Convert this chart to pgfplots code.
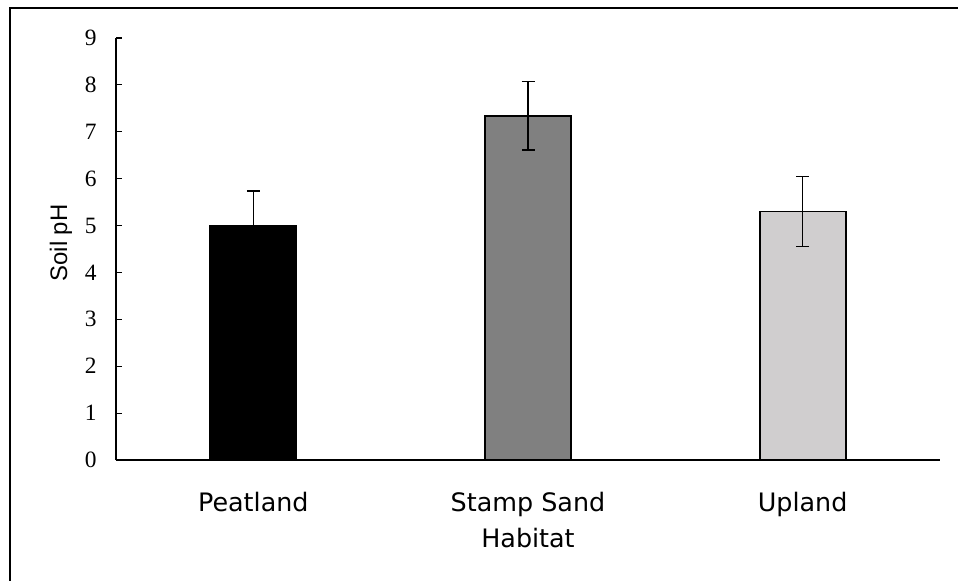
\documentclass[border=0pt]{standalone}
\usepackage{pgfplots}
\pgfplotsset{compat=1.18}
\usepackage{fontspec}
\setmainfont{Liberation Serif}
\newfontfamily\dejavu{DejaVu Sans}
\newfontfamily\arial{Liberation Sans}
\definecolor{midgray}{RGB}{128,128,128}
\definecolor{lightgray2}{RGB}{208,206,207}
\begin{document}
\begin{tikzpicture}
\useasboundingbox (0,0) rectangle (958bp,581bp);
\draw[line width=2bp] (10bp,0) -- (10bp,572.5bp) -- (958bp,572.5bp);
\begin{axis}[
  at={(116bp,121bp)}, anchor=south west,
  scale only axis,
  width=824bp, height=422bp,
  xmin=-0.5, xmax=2.5,
  ymin=0, ymax=9,
  ytick={0,1,2,3,4,5,6,7,8,9},
  xtick={0,1,2},
  xticklabels={Peatland,Stamp Sand,Upland},
  axis x line*=bottom, axis y line*=left,
  axis line style={line width=1.5bp, -},
  tick align=inside,
  major tick length=6bp,
  x tick style={draw=none},
  y tick style={line width=1.2bp, black},
  /pgf/number format/assume math mode=true,
  yticklabel style={font=\fontsize{23.5}{27}\selectfont, anchor=east, xshift=-16bp},
  xticklabel style={font=\dejavu\fontsize{25.5}{30}\selectfont, anchor=base, yshift=-45bp},
  xlabel={Habitat},
  xlabel style={font=\dejavu\fontsize{25.5}{30}\selectfont, at={(axis description cs:0.5,0)}, anchor=base, yshift=-87bp},
  ylabel={Soil pH},
  ylabel style={font=\arial\fontsize{24}{28}\selectfont, at={(axis description cs:0,0.5)}, anchor=center, xshift=6bp, yshift=55bp},
  ybar, bar width=86bp, bar shift=0pt,
  error bars/error bar style={line width=1.3bp, black},
  error bars/error mark options={rotate=90, mark size=6.5bp, line width=1.3bp, black},
]
\addplot[fill=black, draw=black, line width=1.8bp,
  error bars/.cd, y dir=both, y explicit]
  coordinates {(0,5.00) +- (0,0.74)};
\addplot[fill=midgray, draw=black, line width=1.8bp,
  error bars/.cd, y dir=both, y explicit]
  coordinates {(1,7.34) +- (0,0.73)};
\addplot[fill=lightgray2, draw=black, line width=1.8bp,
  error bars/.cd, y dir=both, y explicit]
  coordinates {(2,5.30) +- (0,0.74)};
\end{axis}
\end{tikzpicture}
\end{document}
